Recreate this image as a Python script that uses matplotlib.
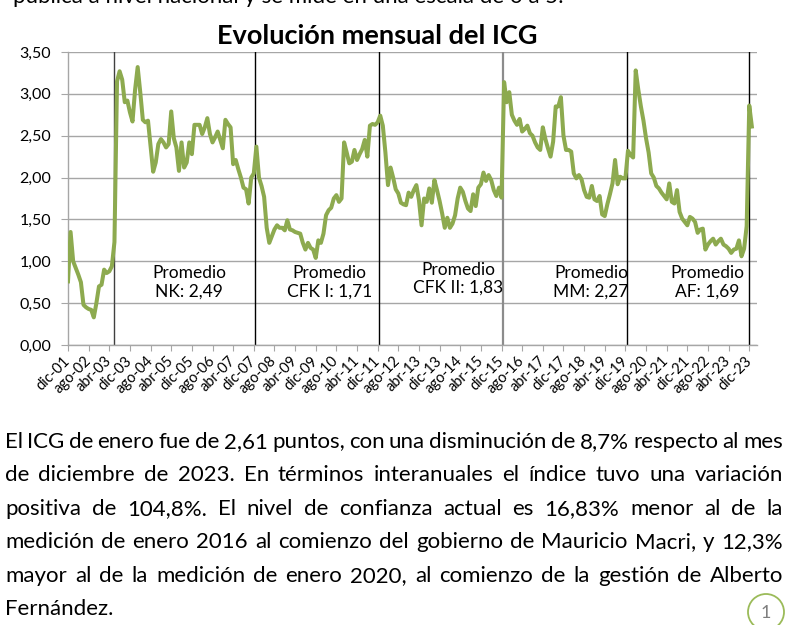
import matplotlib
matplotlib.use('Agg')
import matplotlib.pyplot as plt
import matplotlib.transforms as mtransforms
from matplotlib.patches import Ellipse
import numpy as np

plt.rcParams['font.family'] = ['Lato', 'DejaVu Sans']

# ICG monthly values, Dec-2001 .. Jan-2024
icg_2001 = [0.76]
icg_2002 = [1.35, 1.00, 0.92, 0.84, 0.75, 0.48, 0.45, 0.43, 0.42, 0.33, 0.50, 0.70]
icg_2003 = [0.72, 0.90, 0.86, 0.88, 0.94, 1.23, 3.15, 3.27, 3.17, 2.90, 2.92, 2.78]
icg_2004 = [2.67, 3.05, 3.32, 3.02, 2.69, 2.66, 2.68, 2.37, 2.07, 2.18, 2.40, 2.46]
icg_2005 = [2.42, 2.36, 2.40, 2.79, 2.47, 2.36, 2.08, 2.42, 2.12, 2.18, 2.42, 2.28]
icg_2006 = [2.63, 2.63, 2.63, 2.52, 2.60, 2.71, 2.52, 2.42, 2.48, 2.55, 2.45, 2.35]
icg_2007 = [2.69, 2.64, 2.60, 2.16, 2.21, 2.10, 2.00, 1.88, 1.86, 1.69, 2.00, 2.05]
icg_2008 = [2.37, 2.00, 1.90, 1.77, 1.40, 1.22, 1.30, 1.38, 1.43, 1.40, 1.40, 1.37]
icg_2009 = [1.49, 1.38, 1.37, 1.35, 1.34, 1.33, 1.22, 1.14, 1.22, 1.16, 1.14, 1.04]
icg_2010 = [1.25, 1.22, 1.33, 1.55, 1.61, 1.64, 1.75, 1.79, 1.71, 1.75, 2.42, 2.30]
icg_2011 = [2.17, 2.19, 2.33, 2.21, 2.28, 2.34, 2.45, 2.25, 2.62, 2.64, 2.63, 2.66]
icg_2012 = [2.74, 2.62, 2.30, 1.91, 2.12, 2.00, 1.86, 1.81, 1.70, 1.68, 1.67, 1.82]
icg_2013 = [1.77, 1.85, 1.91, 1.73, 1.43, 1.75, 1.71, 1.87, 1.70, 1.97, 1.85, 1.72]
icg_2014 = [1.57, 1.40, 1.52, 1.40, 1.45, 1.55, 1.75, 1.88, 1.83, 1.72, 1.63, 1.60]
icg_2015 = [1.80, 1.66, 1.88, 1.92, 2.06, 1.96, 2.03, 1.97, 1.85, 1.78, 1.88, 1.76]
icg_2016 = [3.14, 2.90, 3.02, 2.75, 2.68, 2.63, 2.70, 2.55, 2.58, 2.62, 2.53, 2.50]
icg_2017 = [2.42, 2.36, 2.33, 2.60, 2.46, 2.35, 2.25, 2.43, 2.85, 2.85, 2.96, 2.50]
icg_2018 = [2.33, 2.33, 2.31, 2.05, 1.99, 2.03, 1.98, 1.85, 1.77, 1.76, 1.90, 1.74]
icg_2019 = [1.72, 1.78, 1.56, 1.54, 1.68, 1.80, 1.93, 2.21, 1.92, 2.01, 1.99, 1.99]
icg_2020 = [2.32, 2.27, 2.24, 3.28, 3.05, 2.85, 2.68, 2.47, 2.30, 2.05, 2.00, 1.90]
icg_2021 = [1.87, 1.82, 1.78, 1.74, 1.93, 1.71, 1.69, 1.85, 1.59, 1.51, 1.47, 1.43]
icg_2022 = [1.53, 1.51, 1.47, 1.34, 1.38, 1.39, 1.14, 1.20, 1.24, 1.27, 1.20, 1.24]
icg_2023 = [1.27, 1.20, 1.18, 1.15, 1.10, 1.14, 1.15, 1.25, 1.06, 1.15, 1.42, 2.86]
icg_2024 = [2.61]

icg = (icg_2001 + icg_2002 + icg_2003 + icg_2004 + icg_2005 + icg_2006 + icg_2007 +
       icg_2008 + icg_2009 + icg_2010 + icg_2011 + icg_2012 + icg_2013 + icg_2014 +
       icg_2015 + icg_2016 + icg_2017 + icg_2018 + icg_2019 + icg_2020 + icg_2021 +
       icg_2022 + icg_2023 + icg_2024)

tick_labels = ['dic-01', 'ago-02', 'abr-03', 'dic-03', 'ago-04', 'abr-05', 'dic-05',
               'ago-06', 'abr-07', 'dic-07', 'ago-08', 'abr-09', 'dic-09', 'ago-10',
               'abr-11', 'dic-11', 'ago-12', 'abr-13', 'dic-13', 'ago-14', 'abr-15',
               'dic-15', 'ago-16', 'abr-17', 'dic-17', 'ago-18', 'abr-19', 'dic-19',
               'ago-20', 'abr-21', 'dic-21', 'ago-22', 'abr-23', 'dic-23']

# government period boundaries (month index) and averages
period_bounds = [17.8, 72.5, 120.5, 168.5, 216.5, 264.0]
avg_texts = ['Promedio\nNK: 2,49', 'Promedio\nCFK I: 1,71', 'Promedio\nCFK II: 1,83',
             'Promedio\nMM: 2,27', 'Promedio\nAF: 1,69']
avg_pos_x = [46.9, 101.2, 151.2, 202.7, 247.7]
avg_pos_y = [0.75, 0.75, 0.79, 0.75, 0.75]

title = 'Evolución mensual del ICG'
top_line = 'pública a nivel nacional y se mide en una escala de 0 a 5.'
paragraph = [
    'El ICG de enero fue de 2,61 puntos, con una disminución de 8,7% respecto al mes',
    'de diciembre de 2023. En términos interanuales el índice tuvo una variación',
    'positiva de 104,8%. El nivel de confianza actual es 16,83% menor al de la',
    'medición de enero 2016 al comienzo del gobierno de Mauricio Macri, y 12,3%',
    'mayor al de la medición de enero 2020, al comienzo de la gestión de Alberto',
    'Fernández.',
]

W, H = 792, 625
fig = plt.figure(figsize=(W / 100, H / 100), dpi=100)
fig.patch.set_facecolor('white')

ax = fig.add_axes([68 / W, 1 - 345 / H, 689 / W, 293 / H])
x = np.arange(len(icg))
ax.plot(x, icg, color='#8daa4f', lw=2.9, solid_joinstyle='round', zorder=3)

ax.set_xlim(0, 267)
ax.set_ylim(0, 3.5)
yt = np.arange(0, 3.51, 0.5)
ax.set_yticks(yt)
ax.set_yticklabels([f'{v:.2f}'.replace('.', ',') for v in yt], fontsize=11.5)
ax.yaxis.grid(True, color='#a6a6a6', lw=1.0)
ax.set_axisbelow(True)

ax.set_xticks(np.arange(0, 265, 8))
ax.set_xticklabels(tick_labels, rotation=45, ha='right', va='center',
                   rotation_mode='anchor', fontsize=10.5)
offset = mtransforms.ScaledTranslation(5 / 100, 0, fig.dpi_scale_trans)
for lab in ax.get_xticklabels():
    lab.set_transform(lab.get_transform() + offset)

ax.tick_params(axis='y', length=5, color='#a6a6a6', pad=7)
ax.tick_params(axis='x', length=4, color='#a6a6a6', pad=6)

for s in ['top', 'right']:
    ax.spines[s].set_visible(False)
for s in ['left', 'bottom']:
    ax.spines[s].set_color('#a6a6a6')
    ax.spines[s].set_linewidth(1.0)

line_cols = ['#404040', '#000000', '#000000', '#8c8c8c', '#000000', '#000000']
line_w = [1.0, 1.0, 1.0, 1.6, 1.0, 1.0]
for b, c, w in zip(period_bounds, line_cols, line_w):
    ax.axvline(b, color=c, lw=w, zorder=2)

for t, px, py in zip(avg_texts, avg_pos_x, avg_pos_y):
    ax.text(px, py, t, ha='center', va='center', fontsize=12.5, linespacing=1.15,
            color='black', zorder=4)

fig.text(377 / W, 1 - 44 / H, title, ha='center', va='baseline', fontsize=19.5,
         fontweight='bold', color='black')

fs = 16
fig.text(13 / W, 1 - 3 / H, top_line, ha='left', va='baseline', fontsize=fs,
         color='black')

fig.canvas.draw()
r = fig.canvas.get_renderer()
baselines = [448, 481, 515, 548, 582, 615]
left, right = 5, 783
for i, (line, base) in enumerate(zip(paragraph, baselines)):
    words = line.split()
    ts = [fig.text(0, 1 - base / H, w, ha='left', va='baseline', fontsize=fs,
                   color='black') for w in words]
    widths = [t.get_window_extent(r).width for t in ts]
    if i < len(paragraph) - 1 and len(words) > 1:
        gap = (right - left - sum(widths)) / (len(words) - 1)
    else:
        gap = fs * 100 / 72 * 0.25
    xx = left
    for t, wd in zip(ts, widths):
        t.set_x(xx / W)
        xx += wd + gap

ell = Ellipse((766 / W, 1 - 612 / H), 36 / W, 36 / H, transform=fig.transFigure,
              facecolor='white', edgecolor='#9bbb59', lw=1.3)
fig.patches.append(ell)
fig.text(766 / W, 1 - 613 / H, '1', ha='center', va='center', fontsize=13,
         color='#7f7f7f')

fig.savefig('out.png', dpi=100, facecolor='white')
